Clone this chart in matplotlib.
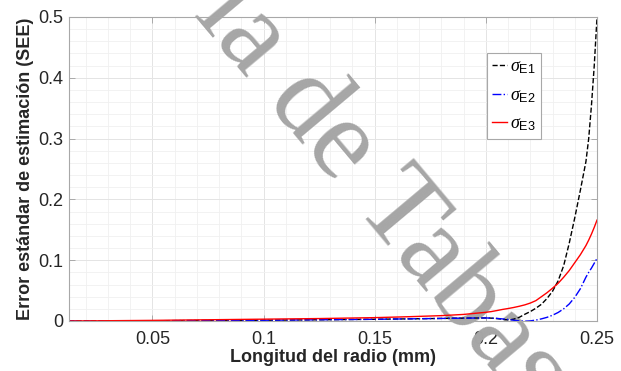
import numpy as np
import matplotlib
matplotlib.use("Agg")
import matplotlib.pyplot as plt
from matplotlib.ticker import MultipleLocator

plt.rcParams['font.family'] = ['Liberation Sans', 'DejaVu Sans']
plt.rcParams['mathtext.fontset'] = 'custom'
plt.rcParams['mathtext.it'] = 'Liberation Serif:italic'
plt.rcParams['mathtext.rm'] = 'Liberation Sans'

# longitud del radio (mm)
radio = [0.0125, 0.025, 0.05, 0.075, 0.1, 0.125, 0.15, 0.165, 0.18, 0.19,
         0.2, 0.2025, 0.205, 0.2075, 0.21, 0.2125, 0.215, 0.2175, 0.22, 0.2225,
         0.225, 0.2275, 0.23, 0.2325, 0.235, 0.2375, 0.24, 0.2425, 0.245, 0.24625,
         0.2475, 0.24875, 0.25]

see_e1 = [0.0, 0.0001, 0.0004, 0.0008, 0.0012, 0.002, 0.0028, 0.0035, 0.0042, 0.0047,
          0.005, 0.0047, 0.004, 0.0028, 0.0017, 0.003, 0.006, 0.011, 0.0155, 0.021,
          0.0275, 0.037, 0.049, 0.066, 0.091, 0.128, 0.170, 0.215, 0.262, 0.300,
          0.355, 0.420, 0.50]

see_e2 = [0.0, 0.0001, 0.0004, 0.0008, 0.0012, 0.002, 0.0028, 0.0035, 0.0042, 0.0047,
          0.005, 0.0047, 0.0042, 0.0034, 0.0025, 0.0012, 0.0002, -0.0003, 0.0002, 0.0015,
          0.0035, 0.006, 0.0095, 0.014, 0.020, 0.028, 0.039, 0.053, 0.072, 0.080,
          0.087, 0.095, 0.103]

see_e3 = [0.0, 0.0003, 0.001, 0.002, 0.003, 0.004, 0.0055, 0.007, 0.0088, 0.0108,
          0.0143, 0.0155, 0.0172, 0.019, 0.0205, 0.0222, 0.0242, 0.0265, 0.0295, 0.0335,
          0.040, 0.0465, 0.054, 0.062, 0.072, 0.083, 0.096, 0.109, 0.124, 0.133,
          0.143, 0.154, 0.166]

xticks = [0.05, 0.1, 0.15, 0.2, 0.25]
xticklabels = ['0.05', '0.1', '0.15', '0.2', '0.25']
yticks = [0, 0.1, 0.2, 0.3, 0.4, 0.5]
yticklabels = ['0', '0.1', '0.2', '0.3', '0.4', '0.5']

fig = plt.figure(figsize=(6.21, 3.71), dpi=100)
ax = fig.add_axes([0.1111, 0.1348, 0.8503, 0.8194])

ax.plot(radio, see_e1, color='black', linestyle='--', linewidth=1.0, label=r'$\sigma_{\mathrm{E1}}$')
ax.plot(radio, see_e2, color='blue', linestyle='-.', linewidth=1.0, label=r'$\sigma_{\mathrm{E2}}$')
ax.plot(radio, see_e3, color='red', linestyle='-', linewidth=1.0, label=r'$\sigma_{\mathrm{E3}}$')

ax.set_xlim(0.0125, 0.25)
ax.set_ylim(0, 0.5)
ax.set_xticks(xticks)
ax.set_xticklabels(xticklabels)
ax.set_yticks(yticks)
ax.set_yticklabels(yticklabels)
ax.xaxis.set_minor_locator(MultipleLocator(0.01))
ax.yaxis.set_minor_locator(MultipleLocator(0.02))

ax.grid(True, which='major', color='#e4e4e4', linewidth=0.7)
ax.grid(True, which='minor', color='#f0f0f0', linewidth=0.6)
ax.tick_params(which='major', direction='in', length=4, width=0.6, color='#a0a0a0',
               top=True, right=True, labelsize=13, labelcolor='#262626')
ax.tick_params(axis='x', which='major', pad=7)
ax.tick_params(axis='y', which='major', pad=4)
ax.tick_params(which='minor', length=0)
for s in ax.spines.values():
    s.set_color('#a8a8a8')
    s.set_linewidth(0.8)

ax.set_xlabel('Longitud del radio (mm)', fontsize=13, fontweight='bold', color='#262626', labelpad=1)
ax.set_ylabel('Error estándar de estimación (SEE)', fontsize=13, fontweight='bold', color='#262626', labelpad=3)

leg = ax.legend(loc='upper left', bbox_to_anchor=(0.791, 0.881), fontsize=13,
                handlelength=0.8, handletextpad=0.2, labelspacing=0.6,
                borderpad=0.3, borderaxespad=0, fancybox=False, framealpha=1)
leg.get_frame().set_edgecolor('#a8a8a8')
leg.get_frame().set_linewidth(0.8)

# marca de agua
ax.text(0.3105, 0.9617, 'la de Tabasco', transform=fig.transFigure, fontsize=83.5,
        fontfamily=['Liberation Serif', 'DejaVu Serif'], color='#a6a6a6',
        rotation=-50, rotation_mode='anchor',
        ha='left', va='baseline', clip_on=False, zorder=1.8)

fig.savefig('out.png', dpi=100)
